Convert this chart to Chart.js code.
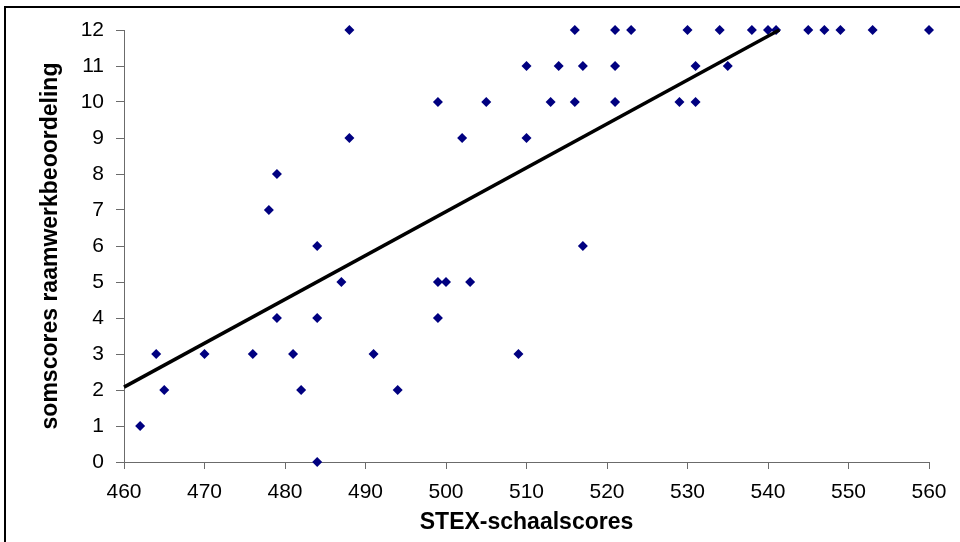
<!DOCTYPE html>
<html>
<head>
<meta charset="utf-8">
<script src="https://cdn.jsdelivr.net/npm/chart.js@4/dist/chart.umd.min.js"></script>
<style>
  html, body { margin: 0; padding: 0; background: #fff; overflow: hidden; }
  #wrap { position: relative; width: 960px; height: 542px; }
  #frame { position: absolute; left: 4px; top: 6px; width: 1000px; height: 1000px;
           border: 2.5px solid #000; box-sizing: border-box; pointer-events: none; }
  canvas { position: absolute; left: 0; top: 0; }
</style>
</head>
<body>
<div id="wrap">
  <canvas id="c" width="960" height="542"></canvas>
  <div id="frame"></div>
</div>
<script>
// STEX scale scores (x) and framework assessment sum scores (y)
const stexScores = [462, 464, 465, 470, 476, 478, 479, 479, 481, 482,
                    484, 484, 484, 487, 488, 488, 491, 494, 499, 499,
                    499, 500, 502, 503, 505, 509, 510, 510, 513, 514,
                    516, 516, 517, 517, 521, 521, 521, 523, 529, 530,
                    531, 531, 534, 535, 538, 540, 541, 545, 547, 549,
                    553, 560];
const somScores  = [1, 3, 2, 3, 3, 7, 8, 4, 3, 2,
                    6, 4, 0, 5, 12, 9, 3, 2, 10, 5,
                    4, 5, 9, 5, 10, 3, 11, 9, 10, 11,
                    12, 10, 11, 6, 12, 11, 10, 12, 10, 12,
                    11, 10, 12, 11, 12, 12, 12, 12, 12, 12,
                    12, 12];
// Linear trend line end points
const trendX = [460, 541.4];
const trendY = [2.08, 12];

const xTicks = [460, 470, 480, 490, 500, 510, 520, 530, 540, 550, 560];
const yTicks = [0, 1, 2, 3, 4, 5, 6, 7, 8, 9, 10, 11, 12];

const points = stexScores.map((x, i) => ({ x: x, y: somScores[i] }));
const trend = trendX.map((x, i) => ({ x: x, y: trendY[i] }));

const FONT = "'Liberation Sans', Arial, sans-serif";

new Chart(document.getElementById('c'), {
  type: 'scatter',
  data: {
    datasets: [
      {
        type: 'line',
        label: 'trend',
        data: trend,
        borderColor: '#000',
        borderWidth: 3.5,
        pointRadius: 0,
        fill: false,
        tension: 0,
        clip: false
      },
      {
        label: 'scores',
        data: points,
        pointStyle: 'rectRot',
        pointRadius: 5,
        pointHoverRadius: 5,
        backgroundColor: '#000080',
        borderColor: '#000080',
        borderWidth: 0,
        clip: false
      }
    ]
  },
  options: {
    responsive: false,
    animation: false,
    events: [],
    layout: { padding: { left: 0, top: 30, right: 31, bottom: 0 } },
    plugins: { legend: { display: false }, tooltip: { enabled: false } },
    scales: {
      x: {
        type: 'linear',
        min: xTicks[0],
        max: xTicks[xTicks.length - 1],
        afterBuildTicks: s => { s.ticks = xTicks.map(v => ({ value: v })); },
        afterFit: s => { s.height = 80; },
        grid: { display: true, drawOnChartArea: false, drawTicks: true, tickLength: 7, color: '#6b6b6b', lineWidth: 1 },
        border: { display: true, color: '#6b6b6b', width: 1 },
        ticks: { color: '#000', padding: 11, maxRotation: 0, font: { family: FONT, size: 21 } },
        title: {
          display: true,
          text: 'STEX-schaalscores',
          color: '#000',
          font: { family: FONT, size: 23, weight: 'bold' },
          padding: { top: 0, bottom: 6 }
        }
      },
      y: {
        type: 'linear',
        min: yTicks[0],
        max: yTicks[yTicks.length - 1],
        afterBuildTicks: s => { s.ticks = yTicks.map(v => ({ value: v })); },
        afterFit: s => { s.width = 124; },
        grid: { display: true, drawOnChartArea: false, drawTicks: true, tickLength: 8, color: '#6b6b6b', lineWidth: 1 },
        border: { display: true, color: '#6b6b6b', width: 1 },
        ticks: { color: '#000', padding: 12, font: { family: FONT, size: 21 } },
        title: {
          display: true,
          text: 'somscores raamwerkbeoordeling',
          color: '#000',
          font: { family: FONT, size: 23, weight: 'bold' },
          padding: { top: 37, bottom: 0 }
        }
      }
    }
  },
  plugins: [{
    id: 'whiteBg',
    beforeDraw: (chart) => {
      const ctx = chart.ctx;
      ctx.save();
      ctx.fillStyle = '#fff';
      ctx.fillRect(0, 0, chart.width, chart.height);
      ctx.restore();
    }
  }]
});
</script>
</body>
</html>
